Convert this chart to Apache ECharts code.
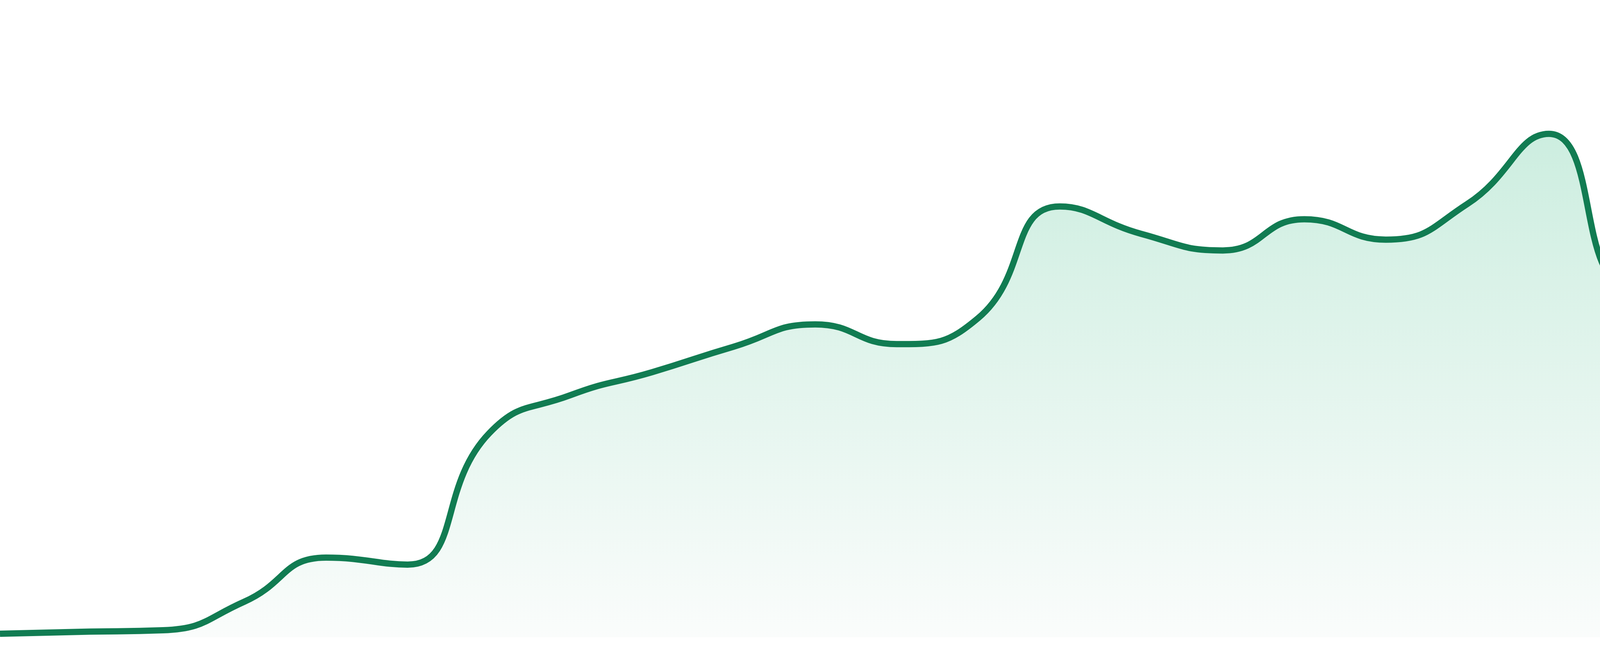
<!DOCTYPE html>
<html>
<head>
<meta charset="utf-8">
<script src="https://cdn.jsdelivr.net/npm/echarts@6/dist/echarts.min.js"></script>
<style>
html,body{margin:0;padding:0;background:#ffffff;}
#chart{width:4800px;height:1680px;}
</style>
</head>
<body>
<div id="chart"></div>
<script>
var categories = ['1','2','3','4','5','6','7','8','9','10','11','12','13','14','15','16','17','18','19','20','21','22','23','24'];
var values = [5.5, 8.6, 11, 56, 125, 114, 320, 380, 416, 456, 491, 460, 501, 676, 633, 607, 656, 624, 680, 790, 550, 611, 875, 717];
var yMin = 0;
var yMax = 1000;

var chart = echarts.init(document.getElementById('chart'), null, {renderer: 'canvas'});
chart.setOption({
  animation: false,
  backgroundColor: '#ffffff',
  grid: {left: 0, right: 0, top: 0, bottom: 48, containLabel: false},
  xAxis: {
    type: 'category',
    data: categories,
    boundaryGap: false,
    show: false
  },
  yAxis: {
    type: 'value',
    min: yMin,
    max: yMax,
    show: false
  },
  series: [{
    type: 'line',
    data: values,
    smooth: true,
    symbol: 'none',
    lineStyle: {color: '#117c52', width: 16},
    areaStyle: {
      color: new echarts.graphic.LinearGradient(0, 0, 0, 1, [
        {offset: 0, color: '#b0e4ce'},
        {offset: 1, color: '#f8fbfa'}
      ])
    }
  }]
});
</script>
</body>
</html>
